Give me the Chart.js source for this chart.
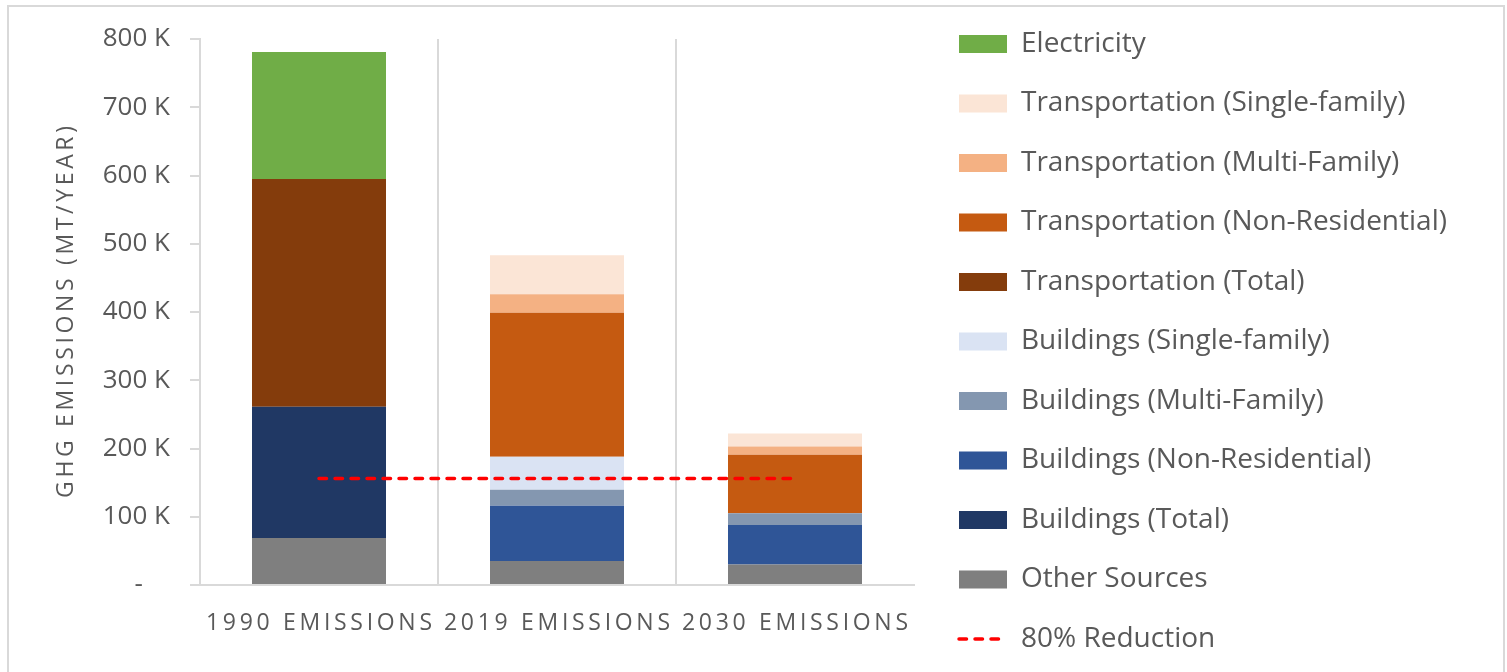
<!DOCTYPE html>
<html>
<head>
<meta charset="utf-8">
<title>GHG Emissions</title>
<script src="https://cdn.jsdelivr.net/npm/chart.js@4.4.1/dist/chart.umd.min.js"></script>
<style>
    html, body { margin: 0; padding: 0; background: #fff; overflow: hidden; }
    .wrap { position: relative; width: 1507px; height: 672px; overflow: hidden; }
    .frame { position: absolute; left: 7px; top: 5px; width: 1498px; height: 720px; border: 2px solid #d9d9d9; box-sizing: border-box; }
    #emissionsChart { position: absolute; left: 0; top: -10px; }
</style>
</head>
<body>
<div class="wrap">
    <div class="frame"></div>
    <canvas id="emissionsChart" width="1507" height="760"></canvas>
</div>
<script>
const categories = ['1990 EMISSIONS', '2019 EMISSIONS', '2030 EMISSIONS'];

// values in MT/year, bottom of the stack first
const otherSources = [69000, 35000, 30000];
const buildingsTotal = [192000, 0, 0];
const buildingsNonResidential = [0, 81000, 58000];
const buildingsMultiFamily = [0, 23500, 17000];
const buildingsSingleFamily = [0, 48500, 0];
const transportationTotal = [334000, 0, 0];
const transportationNonResidential = [0, 211000, 86000];
const transportationMultiFamily = [0, 27000, 12000];
const transportationSingleFamily = [0, 57000, 19000];
const electricity = [186000, 0, 0];
const reductionTarget = [156000, 156000, 156000];

const yMax = 800000;
const yStep = 100000;

const fontFamily = '"Open Sans"';
const textColor = '#595959';
const gridColor = '#d9d9d9';

Chart.defaults.font.family = fontFamily;
Chart.defaults.color = textColor;

const barSeries = [
    ['Other Sources', otherSources, '#7f7f7f'],
    ['Buildings (Total)', buildingsTotal, '#203864'],
    ['Buildings (Non-Residential)', buildingsNonResidential, '#2f5597'],
    ['Buildings (Multi-Family)', buildingsMultiFamily, '#8497b0'],
    ['Buildings (Single-family)', buildingsSingleFamily, '#dae3f3'],
    ['Transportation (Total)', transportationTotal, '#843c0c'],
    ['Transportation (Non-Residential)', transportationNonResidential, '#c55a11'],
    ['Transportation (Multi-Family)', transportationMultiFamily, '#f4b183'],
    ['Transportation (Single-family)', transportationSingleFamily, '#fbe5d6'],
    ['Electricity', electricity, '#70ad47'],
];

// legend: box left edge at x=959, rows 59.5px apart
const legendFont = 28;
const legendPadding = 31.5;
const legendBoxWidth = 48;
const legendLeft = 959 - legendPadding;
const plotRight = 914;

const measure = document.createElement('canvas').getContext('2d');
measure.font = `${legendFont}px ${fontFamily}`;
const longestLabel = Math.max(...barSeries.map((s) => measure.measureText(s[0]).width));
const legendWidth = legendPadding + legendBoxWidth + legendFont / 2 + longestLabel + 10;
const rightPadding = Math.max(0, 1507 - legendLeft - legendWidth);

const datasets = barSeries.map(([label, values, color]) => ({
    type: 'bar',
    label,
    data: values,
    backgroundColor: color,
    borderWidth: 0,
    stack: 'sources',
    order: 1,
    xAxisID: 'x',
    yAxisID: 'y',
    barPercentage: 0.563,
    categoryPercentage: 1,
}));

datasets.push({
    type: 'line',
    label: '80% Reduction',
    data: reductionTarget,
    borderColor: '#ff0000',
    backgroundColor: '#ff0000',
    borderWidth: 3.5,
    borderDash: [7.5, 8.5],
    borderCapStyle: 'round',
    pointRadius: 0,
    fill: false,
    stack: 'target',
    order: 0,
    xAxisID: 'x',
    yAxisID: 'y',
});

function drawSpaced(ctx, text, x, y, targetWidth) {
    ctx.letterSpacing = '0px';
    const natural = ctx.measureText(text).width;
    const spacing = Math.max(0, (targetWidth - natural) / (text.length - 1));
    ctx.letterSpacing = spacing + 'px';
    ctx.fillText(text, x + spacing / 2, y);
}

// category labels and axis title are letter-spaced, which the scales cannot do
const spacedText = {
    id: 'spacedText',
    afterDraw(chart) {
        const { ctx, chartArea } = chart;
        const xScale = chart.scales.x;

        ctx.save();
        ctx.fillStyle = textColor;
        ctx.textAlign = 'center';
        ctx.textBaseline = 'middle';
        ctx.font = `23px ${fontFamily}`;
        categories.forEach((label, i) => {
            drawSpaced(ctx, label, xScale.getPixelForValue(i), chartArea.bottom + 38.5, 226);
        });

        ctx.translate(66, (chartArea.top + chartArea.bottom) / 2);
        ctx.rotate(-Math.PI / 2);
        ctx.font = `23px ${fontFamily}`;
        drawSpaced(ctx, 'GHG EMISSIONS (MT/YEAR)', 0, 0, 372);
        ctx.restore();
    },
};

new Chart(document.getElementById('emissionsChart'), {
    data: {
        labels: categories,
        datasets,
    },
    plugins: [spacedText],
    options: {
        responsive: false,
        animation: false,
        layout: {
            padding: { left: 0, right: rightPadding, top: 8.5, bottom: 0 },
        },
        plugins: {
            legend: {
                position: 'right',
                align: 'start',
                reverse: true,
                maxWidth: 800,
                labels: {
                    color: textColor,
                    font: { size: legendFont },
                    padding: legendPadding,
                    usePointStyle: true,
                    pointStyleWidth: legendBoxWidth,
                    boxHeight: 18,
                    generateLabels(chart) {
                        const items = Chart.defaults.plugins.legend.labels.generateLabels(chart);
                        return items.map((item) => {
                            const ds = chart.data.datasets[item.datasetIndex];
                            if (ds.type === 'line') {
                                item.pointStyle = 'line';
                                item.lineDash = ds.borderDash;
                                item.lineWidth = ds.borderWidth;
                                item.lineCap = ds.borderCapStyle;
                                item.strokeStyle = ds.borderColor;
                            } else {
                                item.pointStyle = 'rect';
                            }
                            return item;
                        });
                    },
                },
            },
            tooltip: {
                enabled: false,
            },
        },
        scales: {
            x: {
                stacked: true,
                ticks: {
                    display: false,
                },
                grid: {
                    offset: true,
                    drawTicks: false,
                    lineWidth: 2,
                    // no separator after the last category
                    color: (ctx) => (ctx.tick === undefined ? 'rgba(0,0,0,0)' : gridColor),
                },
                border: {
                    color: gridColor,
                    width: 2,
                },
                afterFit(scale) {
                    scale.height = 165;
                },
            },
            y: {
                stacked: true,
                min: 0,
                max: yMax,
                ticks: {
                    stepSize: yStep,
                    padding: 20,
                    color: textColor,
                    font: { size: 26 },
                    callback(value) {
                        return value === 0 ? '-    ' : `${value / 1000} K`;
                    },
                },
                grid: {
                    drawOnChartArea: false,
                    tickLength: 10,
                    lineWidth: 2,
                    color: gridColor,
                },
                border: {
                    color: gridColor,
                    width: 2,
                },
                afterFit(scale) {
                    scale.width = 200;
                },
            },
            gapTop: {
                type: 'linear',
                position: 'top',
                grid: { display: false },
                ticks: { display: false },
                border: { display: false },
                afterFit(scale) {
                    scale.height = 40.5;
                },
            },
            gapRight: {
                type: 'linear',
                position: 'right',
                grid: { display: false },
                ticks: { display: false },
                border: { display: false },
                afterFit(scale) {
                    scale.width = legendLeft - plotRight;
                },
            },
        },
    },
});
</script>
</body>
</html>
